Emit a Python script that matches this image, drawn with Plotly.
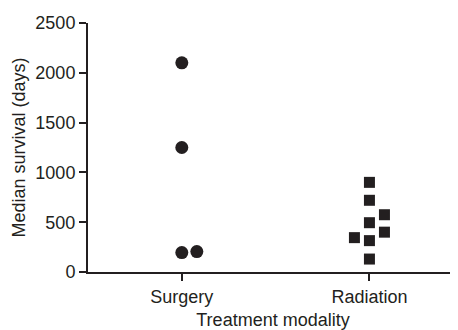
import plotly.graph_objects as go

categories = ["Surgery", "Radiation"]
surgery_days = [2100, 1250, 195, 205]
surgery_offset = [0, 0, 0, 1]
radiation_days = [900, 720, 575, 495, 400, 345, 315, 130]
radiation_offset = [0, 0, 1, 0, 1, -1, 0, 0]
y_ticks = [0, 500, 1000, 1500, 2000, 2500]

DODGE = 0.08
font_family = "Liberation Sans, Arial, sans-serif"
ink = "#231f20"

fig = go.Figure()
fig.add_trace(go.Scatter(
    x=[0 + o * DODGE for o in surgery_offset], y=surgery_days, mode="markers",
    marker=dict(symbol="circle", size=13, color=ink), showlegend=False))
fig.add_trace(go.Scatter(
    x=[1 + o * DODGE for o in radiation_offset], y=radiation_days, mode="markers",
    marker=dict(symbol="square", size=11, color=ink), showlegend=False))

# page body has an 8px default margin, so the figure is shrunk/shifted to compensate
fig.update_layout(
    width=450, height=322,
    margin=dict(l=80, r=0, t=15, b=58),
    plot_bgcolor="white", paper_bgcolor="white",
    font=dict(family=font_family, size=18, color=ink),
    xaxis=dict(range=[-0.5, 1.472], tickvals=[0, 1], ticktext=categories,
               showgrid=False, zeroline=False, showline=True, linecolor=ink, linewidth=2,
               ticks="outside", ticklen=7, tickwidth=2, tickcolor=ink, automargin=False,
               tickfont=dict(size=18),
               title=dict(text="Treatment modality", standoff=8, font=dict(size=18))),
    yaxis=dict(range=[0, 2500], tickvals=y_ticks,
               showgrid=False, zeroline=False, showline=True, linecolor=ink, linewidth=2,
               ticks="outside", ticklen=7, tickwidth=2, tickcolor=ink, automargin=False,
               tickfont=dict(size=18),
               title=dict(text="Median survival (days)", standoff=5, font=dict(size=18))),
)
fig.write_html("out.html")
